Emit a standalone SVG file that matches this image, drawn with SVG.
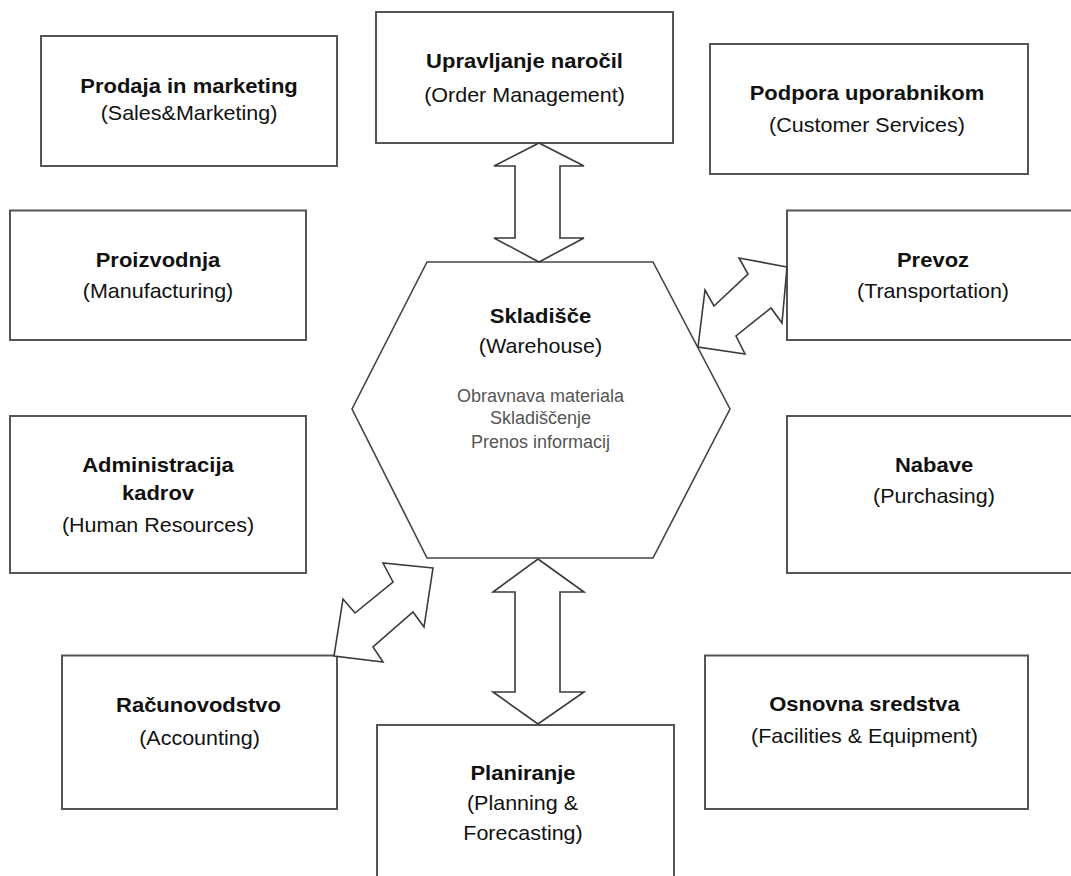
<svg xmlns="http://www.w3.org/2000/svg" width="1071" height="876" viewBox="0 0 1071 876">
<style>
.box{fill:#fff;stroke:#555;stroke-width:2}
.hex{fill:#fff;stroke:#444;stroke-width:1.6}
.arr{fill:#fff;stroke:#3a3a3a;stroke-width:1.6;stroke-linejoin:miter}
text{font-family:"Liberation Sans",Arial,sans-serif;font-size:20px;fill:#111;text-anchor:middle}
.b{font-weight:bold}
.s{font-size:18px;fill:#555}
</style>
<rect width="1071" height="876" fill="#fff"/>
<g id="prodaja">
<rect class="box" x="41" y="36" width="296" height="130"/>
<text class="b" transform="translate(189 93) scale(1.1 1)">Prodaja in marketing</text>
<text transform="translate(189 120) scale(1.075 1)">(Sales&amp;Marketing)</text>
</g>
<g id="upravljanje">
<rect class="box" x="376" y="12" width="297" height="131"/>
<text class="b" transform="translate(524.5 68) scale(1.1 1)">Upravljanje naročil</text>
<text transform="translate(524.5 102) scale(1.075 1)">(Order Management)</text>
</g>
<g id="podpora">
<rect class="box" x="710" y="44" width="318" height="130"/>
<text class="b" transform="translate(867 100) scale(1.1 1)">Podpora uporabnikom</text>
<text transform="translate(867 132) scale(1.075 1)">(Customer Services)</text>
</g>
<g id="proizvodnja">
<rect class="box" x="10" y="210.5" width="296" height="129.5"/>
<text class="b" transform="translate(158 267) scale(1.1 1)">Proizvodnja</text>
<text transform="translate(158 298) scale(1.075 1)">(Manufacturing)</text>
</g>
<g id="prevoz">
<rect class="box" x="787" y="210.5" width="300" height="129.5"/>
<text class="b" transform="translate(933 267) scale(1.1 1)">Prevoz</text>
<text transform="translate(933 298) scale(1.075 1)">(Transportation)</text>
</g>
<g id="skladisce">
<polygon class="hex" points="427,262 653,262 730,409 653,558 427,558 352,409"/>
<text class="b" transform="translate(540.5 323) scale(1.1 1)">Skladišče</text>
<text transform="translate(540.5 353) scale(1.075 1)">(Warehouse)</text>
<text class="s" x="540.5" y="402">Obravnava materiala</text>
<text class="s" x="540.5" y="424">Skladiščenje</text>
<text class="s" x="540.5" y="448">Prenos informacij</text>
</g>
<g id="administracija">
<rect class="box" x="10" y="416" width="296" height="157"/>
<text class="b" transform="translate(158 472) scale(1.1 1)">Administracija</text>
<text class="b" transform="translate(158 500) scale(1.1 1)">kadrov</text>
<text transform="translate(158 532) scale(1.075 1)">(Human Resources)</text>
</g>
<g id="nabave">
<rect class="box" x="787" y="416" width="300" height="157"/>
<text class="b" transform="translate(934 472) scale(1.1 1)">Nabave</text>
<text transform="translate(934 503) scale(1.075 1)">(Purchasing)</text>
</g>
<g id="racunovodstvo">
<rect class="box" x="62" y="655.5" width="275" height="153.5"/>
<text class="b" transform="translate(198.5 712) scale(1.1 1)">Računovodstvo</text>
<text transform="translate(199.5 745) scale(1.075 1)">(Accounting)</text>
</g>
<g id="osnovna">
<rect class="box" x="705" y="655.5" width="323" height="153.5"/>
<text class="b" transform="translate(864.5 711) scale(1.1 1)">Osnovna sredstva</text>
<text transform="translate(864.5 743) scale(1.075 1)">(Facilities &amp; Equipment)</text>
</g>
<g id="planiranje">
<rect class="box" x="377" y="725" width="297" height="160"/>
<text class="b" transform="translate(523 780) scale(1.1 1)">Planiranje</text>
<text transform="translate(522.5 810) scale(1.075 1)">(Planning &amp;</text>
<text transform="translate(523 840) scale(1.075 1)">Forecasting)</text>
</g>
<g id="connectors">
<polygon class="arr" points="539,143 584,166 560,166 560,238 584,238 539,262 494,238 515,238 515,166 494,166"/>
<polygon class="arr" points="538,559 584,592 560,592 560,692 584,692 538,724 493,692 515,692 515,592 493,592"/>
<polygon class="arr" points="787,267 739,258 748,274 714,306 705,290 698,347 745,354 736,336 771,308 782,323"/>
<polygon class="arr" points="433,568 383,563 393,582 355,613 343,599 334,656 383,662 373,647 413,612 424,627"/>
</g>
</svg>
